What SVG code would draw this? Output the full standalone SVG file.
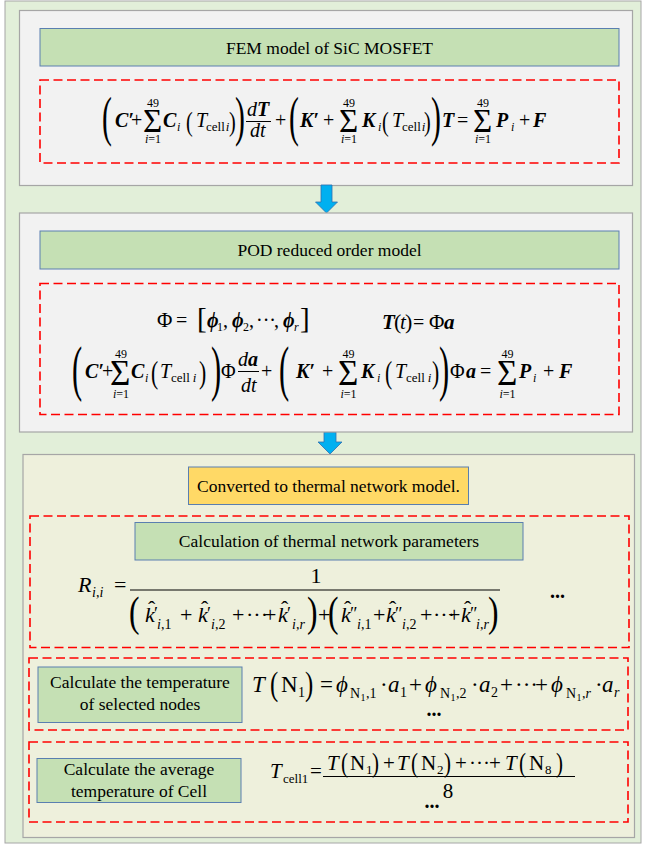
<svg xmlns="http://www.w3.org/2000/svg" width="646" height="847" viewBox="0 0 646 847">
<style>
.f{font-family:"Liberation Serif","DejaVu Serif",serif;fill:#000}
.lbl{font-family:"Liberation Serif","DejaVu Serif",serif;fill:#000;font-size:17.5px;text-anchor:middle}
.bi{font-weight:bold;font-style:italic}
.it{font-style:italic}
.up{font-style:normal}
.panel{fill:#f2f2f2;stroke:#a6a6a6;stroke-width:1.2}
.green{fill:#c5e0b4;stroke:#5a7fb0;stroke-width:1}
.dash{fill:none;stroke:#ff0000;stroke-width:1.6;stroke-dasharray:9 4.5}
.arrow{fill:#00b0f0;stroke:#2f6fb0;stroke-width:0.8}
.fl{stroke:#000;stroke-width:1}
</style>
<rect x="0" y="0" width="646" height="847" fill="#ffffff"/>
<rect x="5" y="1" width="636" height="842" fill="#e2efd9" stroke="#a6a6a6" stroke-width="1"/>

<g id="fem-panel">
<rect class="panel" x="19.5" y="10.5" width="613" height="175"/>
</g>
<g id="fem-title">
<rect class="green" x="40" y="28.5" width="579" height="37.5"/>
<text class="lbl" x="329.5" y="53.5">FEM model of SiC MOSFET</text>
</g>
<g id="fem-equation" class="f">
<rect class="dash" x="40" y="80" width="579" height="83"/>
<text transform="translate(102,135) scale(0.55,1)" font-size="54">(</text>
<text transform="translate(186,130.5) scale(0.75,1)" font-size="27">(</text>
<text transform="translate(229,130.5) scale(0.75,1)" font-size="27">)</text>
<text transform="translate(235,135) scale(0.55,1)" font-size="54">)</text>
<text transform="translate(289,135) scale(0.55,1)" font-size="54">(</text>
<text transform="translate(382,130.5) scale(0.75,1)" font-size="27">(</text>
<text transform="translate(424,130.5) scale(0.75,1)" font-size="27">)</text>
<text transform="translate(431,135) scale(0.55,1)" font-size="54">)</text>
<line class="fl" x1="246" y1="121.5" x2="271" y2="121.5"/>
<text font-size="20"><tspan x="115" y="127" class="bi">C′</tspan><tspan x="131" y="127">+</tspan><tspan x="143" y="132" font-size="33">Σ</tspan><tspan x="147" y="107" font-size="12">49</tspan><tspan x="145" y="143" font-size="12"><tspan class="it">i</tspan>=1</tspan><tspan x="163" y="127" class="bi">C</tspan><tspan x="177" y="131" class="it" font-size="12">i</tspan><tspan x="196" y="127" class="it">T</tspan><tspan x="206" y="131" font-size="13">cell<tspan class="it" dx="1">i</tspan></tspan><tspan x="247" y="116"><tspan class="it">d</tspan><tspan class="bi">T</tspan></tspan><tspan x="250" y="137" class="it">dt</tspan><tspan x="275" y="127">+</tspan><tspan x="300" y="127" class="bi">K′</tspan><tspan x="323" y="127">+</tspan><tspan x="339" y="132" font-size="33">Σ</tspan><tspan x="343" y="107" font-size="12">49</tspan><tspan x="341" y="143" font-size="12"><tspan class="it">i</tspan>=1</tspan><tspan x="362" y="127" class="bi">K</tspan><tspan x="378" y="131" class="it" font-size="12">i</tspan><tspan x="392" y="127" class="it">T</tspan><tspan x="402" y="131" font-size="13">cell<tspan class="it" dx="1">i</tspan></tspan><tspan x="442" y="127" class="bi">T</tspan><tspan x="457" y="127">=</tspan><tspan x="473" y="132" font-size="33">Σ</tspan><tspan x="477" y="107" font-size="12">49</tspan><tspan x="475" y="143" font-size="12"><tspan class="it">i</tspan>=1</tspan><tspan x="496" y="127" class="bi">P</tspan><tspan x="511" y="131" class="it" font-size="12">i</tspan><tspan x="519" y="127">+</tspan><tspan x="533" y="127" class="bi">F</tspan></text>
</g>

<g id="connectors">
<polygon class="arrow" points="321,185 332,185 332,202 337.5,202 326.5,213 315.5,202 321,202"/>
<polygon class="arrow" points="324,432 336,432 336,442 342,442 330,454 318,442 324,442"/>
</g>

<g id="pod-panel">
<rect class="panel" x="19.5" y="213" width="613" height="219"/>
</g>
<g id="pod-title">
<rect class="green" x="40" y="231" width="579" height="38"/>
<text class="lbl" x="329.5" y="256">POD reduced order model</text>
</g>
<g id="pod-equation" class="f">
<rect class="dash" x="40" y="283.5" width="579" height="131"/>
<text font-size="20"><tspan x="157" y="327" font-size="21">Φ</tspan><tspan x="176" y="327">=</tspan><tspan x="197" y="327.5" font-size="29">[</tspan><tspan x="207" y="327" class="bi">ϕ</tspan><tspan x="217" y="331" font-size="12">1</tspan><tspan x="223" y="327">,</tspan><tspan x="232" y="327" class="bi">ϕ</tspan><tspan x="243" y="331" font-size="12">2</tspan><tspan x="249" y="327">,</tspan><tspan x="256" y="327">···</tspan><tspan x="274" y="327">,</tspan><tspan x="283" y="327" class="bi">ϕ</tspan><tspan x="294" y="331" class="it" font-size="12">r</tspan><tspan x="300" y="327.5" font-size="29">]</tspan><tspan x="382" y="329" class="bi" font-size="21">T</tspan><tspan x="394" y="329" font-size="22">(</tspan><tspan x="400" y="329" class="it" font-size="21">t</tspan><tspan x="405" y="329" font-size="22">)</tspan><tspan x="413" y="329">=</tspan><tspan x="429" y="329" font-size="21">Φ</tspan><tspan x="444" y="329" class="bi" font-size="21">a</tspan></text>
<text transform="translate(72,389) scale(0.5,1)" font-size="61">(</text>
<text transform="translate(151,382.5) scale(0.7,1)" font-size="31">(</text>
<text transform="translate(199,382.5) scale(0.7,1)" font-size="31">)</text>
<text transform="translate(211,389) scale(0.5,1)" font-size="61">)</text>
<text transform="translate(279,389) scale(0.5,1)" font-size="61">(</text>
<text transform="translate(385,382.5) scale(0.7,1)" font-size="31">(</text>
<text transform="translate(432,382.5) scale(0.7,1)" font-size="31">)</text>
<text transform="translate(439,389) scale(0.5,1)" font-size="61">)</text>
<line class="fl" x1="238" y1="371.5" x2="259" y2="371.5"/>
<text font-size="20"><tspan x="85" y="378" class="bi">C′</tspan><tspan x="102" y="378">+</tspan><tspan x="110" y="385" font-size="35">Σ</tspan><tspan x="115" y="358" font-size="12">49</tspan><tspan x="113" y="398" font-size="12"><tspan class="it">i</tspan>=1</tspan><tspan x="131" y="378" class="bi">C</tspan><tspan x="145" y="382" class="it" font-size="12">i</tspan><tspan x="160" y="378" class="it">T</tspan><tspan x="171" y="382" font-size="13">cell<tspan class="it" dx="3">i</tspan></tspan><tspan x="221" y="378">Φ</tspan><tspan x="238" y="366"><tspan class="it">d</tspan><tspan class="bi">a</tspan></tspan><tspan x="241" y="392" class="it">dt</tspan><tspan x="261" y="378">+</tspan><tspan x="296" y="378" class="bi">K′</tspan><tspan x="322" y="378">+</tspan><tspan x="338" y="385" font-size="35">Σ</tspan><tspan x="342.5" y="358" font-size="12">49</tspan><tspan x="340.5" y="398" font-size="12"><tspan class="it">i</tspan>=1</tspan><tspan x="361" y="378" class="bi">K</tspan><tspan x="377" y="382" class="it" font-size="12">i</tspan><tspan x="395" y="378" class="it">T</tspan><tspan x="406" y="382" font-size="13">cell<tspan class="it" dx="3">i</tspan></tspan><tspan x="450" y="378">Φ</tspan><tspan x="466" y="378" class="bi">a</tspan><tspan x="480" y="378">=</tspan><tspan x="497" y="385" font-size="35">Σ</tspan><tspan x="501.5" y="358" font-size="12">49</tspan><tspan x="499.5" y="398" font-size="12"><tspan class="it">i</tspan>=1</tspan><tspan x="519" y="378" class="bi">P</tspan><tspan x="533" y="382" class="it" font-size="12">i</tspan><tspan x="543" y="378">+</tspan><tspan x="559" y="378" class="bi">F</tspan></text>
</g>

<g id="thermal-panel">
<rect x="23" y="454.5" width="611.5" height="383" fill="#eef0dc" stroke="#a6a6a6" stroke-width="1.2"/>
</g>
<g id="thermal-title">
<rect x="188.5" y="467" width="280" height="37.5" fill="#ffd966" stroke="#5a7fb0" stroke-width="1"/>
<text class="lbl" x="328.5" y="491.5">Converted to thermal network model.</text>
</g>
<g id="parameters">
<rect class="dash" x="30" y="516" width="599" height="131.5"/>
<rect class="green" x="135" y="522.5" width="388" height="37.5"/>
<text class="lbl" x="329" y="547">Calculation of thermal network parameters</text>
<g class="f">
<line class="fl" x1="130" y1="590" x2="500" y2="590"/>
<text transform="translate(129,625.5) scale(0.75,1)" font-size="42">(</text>
<text transform="translate(307,625.5) scale(0.75,1)" font-size="42">)</text>
<text transform="translate(328,625.5) scale(0.75,1)" font-size="42">(</text>
<text transform="translate(488,625.5) scale(0.75,1)" font-size="42">)</text>
<text font-size="22"><tspan x="78" y="592" class="it">R</tspan><tspan x="92" y="597" font-size="14"><tspan class="it">i</tspan>,<tspan class="it">i</tspan></tspan><tspan x="114" y="592">=</tspan><tspan x="310.5" y="583">1</tspan><tspan x="145" y="622" class="it">k</tspan><tspan x="148" y="616">ˆ</tspan><tspan x="154" y="620" font-size="18">′</tspan><tspan x="157" y="629" font-size="14"><tspan class="it">i</tspan>,1</tspan><tspan x="180" y="622">+</tspan><tspan x="198" y="622" class="it">k</tspan><tspan x="201" y="616">ˆ</tspan><tspan x="207" y="620" font-size="18">′</tspan><tspan x="211" y="629" font-size="14"><tspan class="it">i</tspan>,2</tspan><tspan x="232" y="622">+</tspan><tspan x="246" y="622">···</tspan><tspan x="264" y="622">+</tspan><tspan x="278" y="622" class="it">k</tspan><tspan x="281" y="616">ˆ</tspan><tspan x="287" y="620" font-size="18">′</tspan><tspan x="292" y="629" font-size="14"><tspan class="it">i</tspan>,<tspan class="it">r</tspan></tspan><tspan x="318" y="622">+</tspan><tspan x="341" y="622" class="it">k</tspan><tspan x="344" y="616">ˆ</tspan><tspan x="350" y="620" font-size="18">″</tspan><tspan x="357" y="629" font-size="14"><tspan class="it">i</tspan>,1</tspan><tspan x="373" y="622">+</tspan><tspan x="386" y="622" class="it">k</tspan><tspan x="389" y="616">ˆ</tspan><tspan x="395" y="620" font-size="18">″</tspan><tspan x="402" y="629" font-size="14"><tspan class="it">i</tspan>,2</tspan><tspan x="420" y="622">+</tspan><tspan x="433" y="622">···</tspan><tspan x="448" y="622">+</tspan><tspan x="461" y="622" class="it">k</tspan><tspan x="464" y="616">ˆ</tspan><tspan x="470" y="620" font-size="18">″</tspan><tspan x="476" y="629" font-size="14"><tspan class="it">i</tspan>,<tspan class="it">r</tspan></tspan><tspan x="550" y="598" font-size="20" font-weight="bold">...</tspan></text>
</g>
</g>

<g id="selected-nodes">
<rect class="dash" x="29" y="658" width="599" height="72"/>
<rect class="green" x="38" y="667" width="204" height="55.5"/>
<text class="lbl" x="140" y="688">Calculate the temperature</text>
<text class="lbl" x="140" y="710">of selected nodes</text>
<g class="f">
<text transform="translate(270,695) scale(0.75,1)" font-size="33">(</text>
<text transform="translate(305,695) scale(0.75,1)" font-size="33">)</text>
<text font-size="23"><tspan x="252" y="692" class="it">T</tspan><tspan x="281" y="692">N</tspan><tspan x="298" y="697" font-size="14">1</tspan><tspan x="320" y="692">=</tspan><tspan x="336" y="692" class="it">ϕ</tspan><tspan x="350" y="698" font-size="14">N</tspan><tspan x="360.5" y="701" font-size="10">1</tspan><tspan x="366" y="698" font-size="14">,1</tspan><tspan x="380" y="692">·</tspan><tspan x="388" y="692" class="it">a</tspan><tspan x="400" y="697" font-size="14">1</tspan><tspan x="409" y="692">+</tspan><tspan x="425" y="692" class="it">ϕ</tspan><tspan x="440" y="698" font-size="14">N</tspan><tspan x="450.5" y="701" font-size="10">1</tspan><tspan x="456" y="698" font-size="14">,2</tspan><tspan x="471" y="692">·</tspan><tspan x="479" y="692" class="it">a</tspan><tspan x="491" y="697" font-size="14">2</tspan><tspan x="500" y="692">+</tspan><tspan x="515" y="692">···</tspan><tspan x="535" y="692">+</tspan><tspan x="551" y="692" class="it">ϕ</tspan><tspan x="566" y="698" font-size="14">N</tspan><tspan x="576.5" y="701" font-size="10">1</tspan><tspan x="582" y="698" font-size="14">,<tspan class="it">r</tspan></tspan><tspan x="595" y="692">·</tspan><tspan x="602" y="692" class="it">a</tspan><tspan x="614" y="697" class="it" font-size="14">r</tspan><tspan x="426.5" y="716" font-size="20" font-weight="bold">...</tspan></text>
</g>
</g>

<g id="cell-average">
<rect class="dash" x="29" y="742" width="599" height="80"/>
<rect class="green" x="37" y="758.5" width="204" height="44"/>
<text class="lbl" x="139" y="775">Calculate the average</text>
<text class="lbl" x="139" y="797">temperature of Cell</text>
<g class="f">
<line class="fl" x1="323" y1="776.5" x2="575" y2="776.5"/>
<text transform="translate(341,772) scale(0.75,1)" font-size="28">(</text>
<text transform="translate(372,772) scale(0.75,1)" font-size="28">)</text>
<text transform="translate(411,772) scale(0.75,1)" font-size="28">(</text>
<text transform="translate(444,772) scale(0.75,1)" font-size="28">)</text>
<text transform="translate(519,772) scale(0.75,1)" font-size="28">(</text>
<text transform="translate(556,772) scale(0.75,1)" font-size="28">)</text>
<text font-size="21"><tspan x="270" y="778" class="it">T</tspan><tspan x="283" y="783" font-size="13">cell1</tspan><tspan x="310" y="778">=</tspan><tspan x="327" y="770" class="it">T</tspan><tspan x="350" y="770">N</tspan><tspan x="366" y="774" font-size="13">1</tspan><tspan x="383" y="770">+</tspan><tspan x="397" y="770" class="it">T</tspan><tspan x="421" y="770">N</tspan><tspan x="437" y="774" font-size="13">2</tspan><tspan x="455" y="770">+</tspan><tspan x="469" y="770">···</tspan><tspan x="489" y="770">+</tspan><tspan x="505" y="770" class="it">T</tspan><tspan x="529" y="770">N</tspan><tspan x="545" y="774" font-size="13">8</tspan><tspan x="442.75" y="798">8</tspan><tspan x="424.5" y="808" font-size="20" font-weight="bold">...</tspan></text>
</g>
</g>
</svg>
